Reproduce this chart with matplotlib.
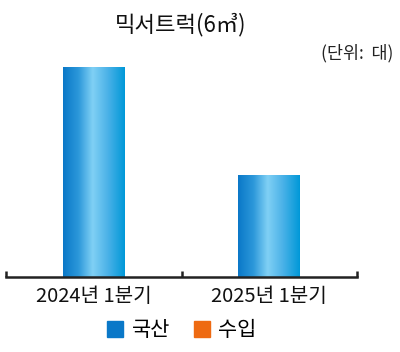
import matplotlib
matplotlib.use("Agg")
import matplotlib.pyplot as plt
import numpy as np
from matplotlib.colors import LinearSegmentedColormap
from matplotlib.lines import Line2D

plt.rcParams['font.family'] = ['Noto Sans CJK KR', 'DejaVu Sans']

# data (값 라벨은 원본에서 가려져 있어 막대 높이로 추정)
categories = ['2024년 1분기', '2025년 1분기']
domestic = [62, 30]
imported = [0, 0]
series_names = ['국산', '수입']
series_colors = ['#0a78c8', '#ee6a12']

fig = plt.figure(figsize=(4.0, 3.52), dpi=100)
ax = fig.add_axes([0.015, 0.214, 0.8775, 0.614])

x = np.arange(len(categories))
bars = ax.bar(x, domestic, width=0.353, color='none', edgecolor='none')

# cylinder-like horizontal gradient
grad = LinearSegmentedColormap.from_list('cyl', [
    (0.0, '#0a78c8'), (0.25, '#2c98da'), (0.48, '#80d0f5'),
    (0.72, '#4cb2e8'), (1.0, '#0098d8')])
g = np.linspace(0, 1, 256).reshape(1, -1)
for b in bars:
    bx, bw, bh = b.get_x(), b.get_width(), b.get_height()
    ax.imshow(g, cmap=grad, aspect='auto', extent=[bx, bx + bw, 0, bh],
              origin='lower', zorder=2)

ax.set_xlim(-0.5, 1.5)
ax.set_ylim(0, 64)
for s in ['top', 'right', 'left']:
    ax.spines[s].set_visible(False)
ax.spines['bottom'].set_linewidth(1.8)
ax.spines['bottom'].set_color('#222222')
ax.set_yticks([])
ax.set_xticks(x)
ax.set_xticklabels(categories, fontsize=14.5, color='#111111')
ax.tick_params(axis='x', which='major', length=0, pad=7)
ax.set_xticks([-0.5, 0.5, 1.5], minor=True)
ax.tick_params(axis='x', which='minor', direction='in', length=4,
               width=1.8, color='#222222')

fig.text(0.4525, 0.929, '믹서트럭(6㎥)', ha='center', va='center',
         fontsize=16, color='#111111')
fig.text(0.983, 0.849, '(단위:  대)', ha='right', va='center',
         fontsize=12.5, color='#222222')

handles = [Line2D([], [], marker='s', linestyle='none', markersize=11,
                  markerfacecolor=c, markeredgecolor=c) for c in series_colors]
fig.legend(handles, series_names, loc='center', bbox_to_anchor=(0.452, 0.0625),
           ncol=2, frameon=False, fontsize=15, handletextpad=0.3,
           columnspacing=1.0, handlelength=1.0)

fig.savefig('out.png', dpi=100)
